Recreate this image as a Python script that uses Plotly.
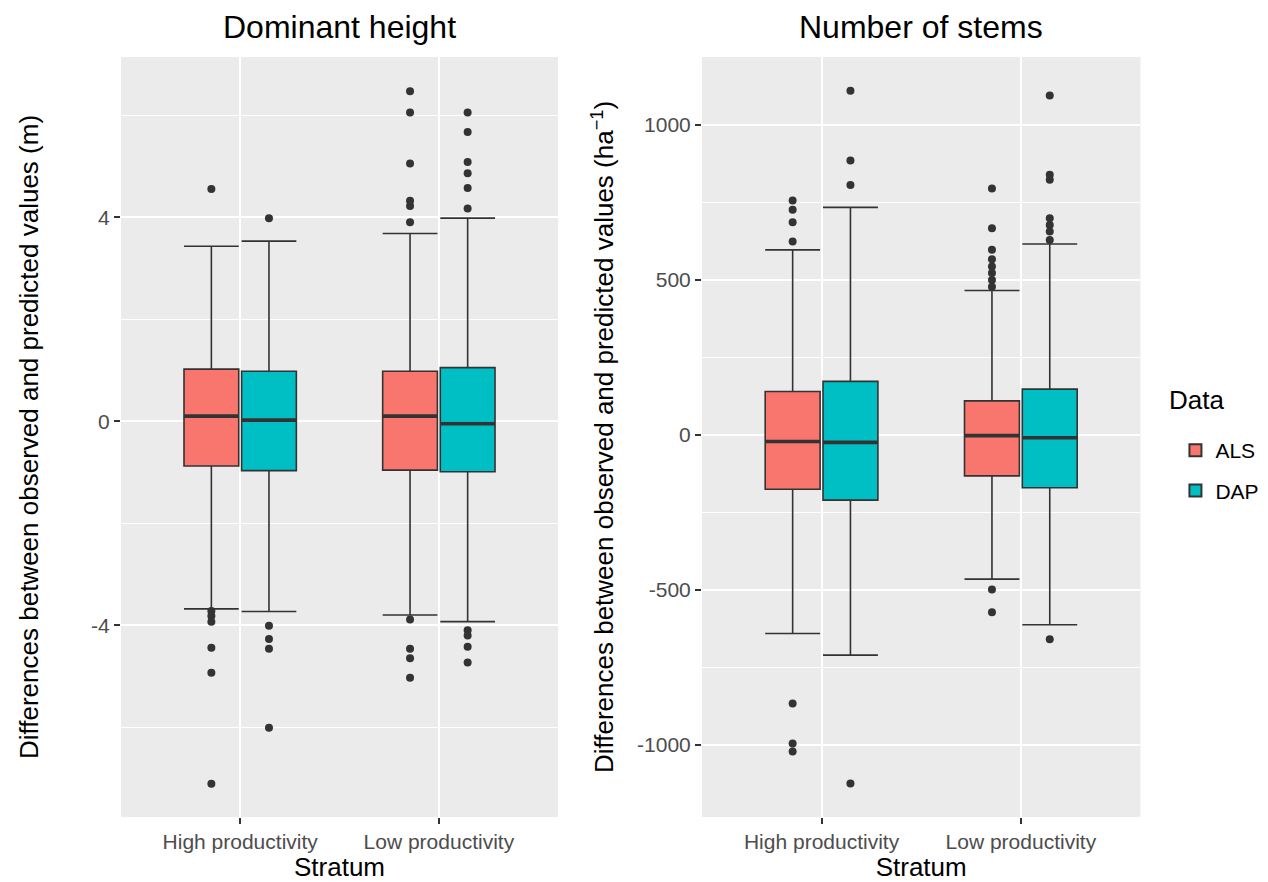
import plotly.graph_objects as go

strata = ["High productivity", "Low productivity"]

# Dominant height (m)
dh_als_q1 = [-0.88, -0.96]
dh_als_med = [0.10, 0.10]
dh_als_q3 = [1.02, 0.98]
dh_als_lo = [-3.68, -3.80]
dh_als_hi = [3.43, 3.68]
dh_als_out = [[4.55, -3.72, -3.82, -3.93, -4.44, -4.93, -7.11],
              [6.47, 6.05, 5.05, 4.32, 4.22, 3.90, -3.89, -4.46, -4.65, -5.03]]

dh_dap_q1 = [-0.97, -0.99]
dh_dap_med = [0.02, -0.05]
dh_dap_q3 = [0.98, 1.05]
dh_dap_lo = [-3.73, -3.93]
dh_dap_hi = [3.53, 3.98]
dh_dap_out = [[3.98, -4.01, -4.27, -4.46, -6.01],
              [6.05, 5.67, 5.08, 4.86, 4.57, 4.17, -4.10, -4.20, -4.42, -4.73]]

# Number of stems (ha^-1)
ns_als_q1 = [-175, -132]
ns_als_med = [-21, -2]
ns_als_q3 = [140, 110]
ns_als_lo = [-640, -465]
ns_als_hi = [597, 466]
ns_als_out = [[756, 726, 686, 624, -866, -995, -1021],
              [795, 667, 597, 567, 543, 522, 500, 478, -498, -572]]

ns_dap_q1 = [-210, -170]
ns_dap_med = [-24, -9]
ns_dap_q3 = [173, 148]
ns_dap_lo = [-710, -612]
ns_dap_hi = [734, 616]
ns_dap_out = [[1110, 885, 806, -1124],
              [1095, 839, 823, 699, 677, 656, 629, -659]]

# tick labels
dh_tickvals = [-4, 0, 4]
dh_ticktext = ["-4", "0", "4"]
ns_tickvals = [-1000, -500, 0, 500, 1000]
ns_ticktext = ["-1000", "-500", "0", "500", "1000"]

ALS_COL = "#F8766D"
DAP_COL = "#00BFC4"
LINE = "#333333"
FONT = "Liberation Sans, Arial, sans-serif"

fig = go.Figure()


def add_box(name, color, q1, med, q3, lo, hi, out, xa, ya, group, show):
    fig.add_trace(go.Box(
        x=strata, q1=q1, median=med, q3=q3, lowerfence=lo, upperfence=hi,
        y=out, name=name, legendgroup=name, showlegend=show,
        offsetgroup=name, alignmentgroup=group,
        fillcolor=color, line=dict(color=LINE, width=1.6),
        marker=dict(color=LINE, size=8, line=dict(width=0)),
        boxpoints="outliers", jitter=0, pointpos=0, whiskerwidth=1,
        xaxis=xa, yaxis=ya, hoverinfo="skip",
    ))
    # thicker median bar, drawn as a flat box at the median
    fig.add_trace(go.Box(
        x=strata, q1=med, median=med, q3=med, lowerfence=med, upperfence=med,
        name=name, legendgroup=name, showlegend=False,
        offsetgroup=name, alignmentgroup=group,
        fillcolor="rgba(0,0,0,0)", line=dict(color=LINE, width=3.6),
        boxpoints=False, whiskerwidth=0,
        xaxis=xa, yaxis=ya, hoverinfo="skip",
    ))


add_box("ALS", ALS_COL, dh_als_q1, dh_als_med, dh_als_q3, dh_als_lo, dh_als_hi, dh_als_out, "x", "y", "dh", True)
add_box("DAP", DAP_COL, dh_dap_q1, dh_dap_med, dh_dap_q3, dh_dap_lo, dh_dap_hi, dh_dap_out, "x", "y", "dh", True)
add_box("ALS", ALS_COL, ns_als_q1, ns_als_med, ns_als_q3, ns_als_lo, ns_als_hi, ns_als_out, "x2", "y2", "ns", False)
add_box("DAP", DAP_COL, ns_dap_q1, ns_dap_med, ns_dap_q3, ns_dap_lo, ns_dap_hi, ns_dap_out, "x2", "y2", "ns", False)

GRID = "white"
TICKFONT = dict(family=FONT, size=21, color="#4D4D4D")
TITLEFONT = dict(family=FONT, size=26, color="black")

common_x = dict(type="category", categoryorder="array", categoryarray=strata,
                showgrid=True, gridcolor=GRID, gridwidth=2, zeroline=False,
                ticks="outside", ticklen=6, tickwidth=1.5, tickcolor=LINE,
                tickfont=TICKFONT, showline=False, automargin=False,
                range=[-0.6, 1.6])
common_y = dict(showgrid=True, gridcolor=GRID, gridwidth=2, zeroline=False,
                ticks="outside", ticklen=6, tickwidth=1.5, tickcolor=LINE,
                tickfont=TICKFONT, showline=False, automargin=False,
                tickmode="array")

fig.update_layout(
    width=1268, height=882,
    margin=dict(l=0, r=0, t=0, b=0),
    paper_bgcolor="white", plot_bgcolor="#EBEBEB",
    template="none",
    boxmode="group", boxgap=0.42, boxgroupgap=0.05,
    font=dict(family=FONT, color="black"),
    xaxis=dict(domain=[0.0954, 0.4401], anchor="y",
               title=dict(text="Stratum", font=TITLEFONT, standoff=6), **common_x),
    xaxis2=dict(domain=[0.5536, 0.8994], anchor="y2",
                title=dict(text="Stratum", font=TITLEFONT, standoff=6), **common_x),
    yaxis=dict(domain=[0.0737, 0.9354], anchor="x", range=[-7.76, 7.14],
               tickvals=dh_tickvals, ticktext=dh_ticktext,
               minor=dict(tickmode="linear", tick0=0, dtick=2, showgrid=True,
                          gridcolor=GRID, gridwidth=1),
               title=dict(text="Differences between observed and predicted values (m)",
                          font=TITLEFONT, standoff=44), **common_y),
    yaxis2=dict(domain=[0.0737, 0.9354], anchor="x2", range=[-1232, 1219],
                tickvals=ns_tickvals, ticktext=ns_ticktext,
                minor=dict(tickmode="linear", tick0=0, dtick=250, showgrid=True,
                           gridcolor=GRID, gridwidth=1),
                title=dict(text="Differences between observed and predicted values (ha<sup>\u22121</sup>)",
                           font=TITLEFONT, standoff=15), **common_y),
    legend=dict(font=dict(family=FONT, size=21, color="black"),
                x=0.927, y=1 - 430 / 882, xanchor="left", yanchor="top",
                bgcolor="rgba(0,0,0,0)", tracegroupgap=10, itemsizing="constant"),
    annotations=[
        dict(text="Dominant height", x=0.2678, y=1 - 27 / 882, xref="paper", yref="paper",
             xanchor="center", yanchor="middle", showarrow=False,
             font=dict(family=FONT, size=32, color="black")),
        dict(text="Number of stems", x=0.7265, y=1 - 27 / 882, xref="paper", yref="paper",
             xanchor="center", yanchor="middle", showarrow=False,
             font=dict(family=FONT, size=32, color="black")),
        dict(text="Data", x=1167 / 1268, y=1 - 400 / 882, xref="paper", yref="paper",
             xanchor="left", yanchor="middle", showarrow=False,
             font=dict(family=FONT, size=26, color="black")),
    ],
)

fig.write_html("out.html")
